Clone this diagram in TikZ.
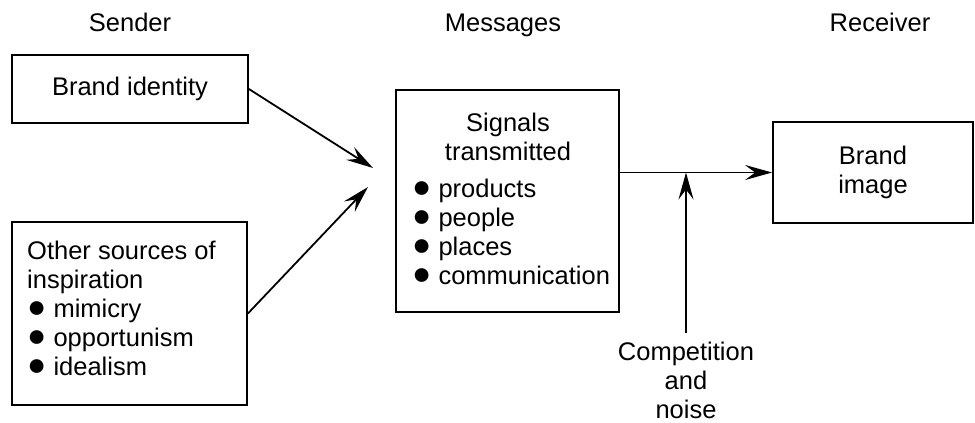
\documentclass[tikz,border=0pt]{standalone}
\usepackage{fontspec}
\setmainfont{Liberation Sans}
\usetikzlibrary{arrows.meta}
\newcommand{\bdot}{\scalebox{1.25}{●}}
\begin{document}
\begin{tikzpicture}[x=1pt,y=-1pt,
  every node/.style={font=\fontsize{25.5}{29}\selectfont,inner sep=0pt},
  box/.style={draw,line width=1.8pt,align=center},
  arr/.style={line width=1.8pt,-{Stealth[length=27pt,width=15pt,inset=10pt]}}]
\useasboundingbox (0,0) rectangle (975,423);
\node[anchor=base] (sender) at (130,31) {Sender};
\node[anchor=base] (messages) at (503,31) {Messages};
\node[anchor=base] (receiver) at (880,31) {Receiver};
\node[box,minimum width=236,minimum height=68] (ident) at (130,89) {Brand identity};
\node[box,minimum width=235,minimum height=183] (other) at (129.5,313.5) {};
\node[anchor=base west,align=left] (othertxt) at (27,375) {Other sources of\\inspiration\\\bdot{} mimicry\\\bdot{} opportunism\\\bdot{} idealism};
\node[box,minimum width=223,minimum height=222] (signals) at (507.5,201) {};
\node[anchor=base,align=center] (sigtitle) at (508,160) {Signals\\transmitted};
\node[anchor=base west,align=left] (siglist) at (412,284) {\bdot{} products\\\bdot{} people\\\bdot{} places\\\bdot{} communication};
\node[box,minimum width=200,minimum height=101] (image) at (873,172.5) {Brand\\image};
\node[anchor=base,align=center] (noise) at (686,418) {Competition\\and\\noise};
\coordinate (in1) at (373,168);
\coordinate (in2) at (368,187);
\draw[arr] (ident.east) -- (in1);
\draw[arr] (other.east) -- (in2);
\draw[arr] (signals.east |- image.west) -- (image.west);
\draw[arr] ([yshift=8pt]noise.north) -- (noise.north |- image.west);
\end{tikzpicture}
\end{document}
